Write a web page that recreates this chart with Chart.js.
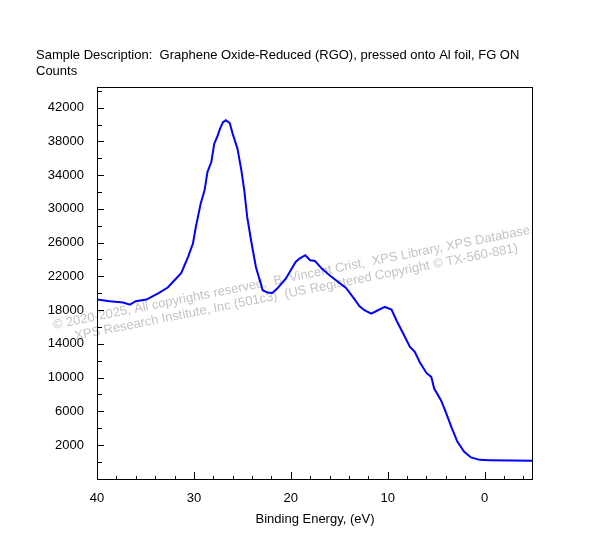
<!DOCTYPE html>
<html>
<head>
<meta charset="utf-8">
<title>Graphene Oxide-Reduced (RGO) valence band</title>
<script src="https://cdn.jsdelivr.net/npm/chart.js@4/dist/chart.umd.min.js"></script>
<style>
  body { margin: 0; background: #fff; }
  canvas { display: block; }
</style>
</head>
<body>
<canvas id="myChart" width="590" height="553"></canvas>
<script>
// values
let energy = [40.0, 38.7, 37.3, 36.6, 36.0, 34.9, 33.6, 32.7, 32.0, 31.3, 30.6, 30.1, 29.8, 29.3,
    28.9, 28.6, 28.2, 27.9, 27.6, 27.3, 27.0, 26.7, 26.3, 26.0, 25.5, 25.1, 24.8, 24.5, 24.1,
    23.6, 22.9, 22.4, 21.9, 21.4, 20.5, 19.5, 19.1, 18.5, 18.0, 17.5, 16.8, 16.0, 15.1, 14.3,
    13.6, 12.9, 12.4, 11.7, 11.0, 10.3, 9.6, 9.1, 8.4, 7.7, 7.2, 6.7, 6.0, 5.5, 5.2, 4.5, 4.0,
    3.4, 2.8, 2.1, 1.4, 0.5, -0.5, -5.0]
let counts = [19250, 19050, 18900, 18650, 19050, 19250, 20030, 20670, 21530, 22400, 24300, 25880,
    27850, 30620, 32200, 34370, 35550, 37730, 38520, 39510, 40290, 40500, 40180, 38920, 37140,
    34570, 32200, 29040, 26280, 23110, 20350, 20080, 20030, 20550, 21740, 23700, 24110, 24500,
    23900, 23820, 22920, 22130, 21330, 20620, 19560, 18450, 17980, 17590, 17980, 18370, 18060,
    16800, 15220, 13630, 13040, 11850, 10550, 10080, 8700, 7320, 5890, 4060, 2370, 1190, 525,
    240, 205, 120]

let xTickLabels = [40, 30, 20, 10, 0]
let xMinorTicks = [38, 36, 34, 32, 28, 26, 24, 22, 18, 16, 14, 12, 8, 6, 4, 2, -2, -4]
let yTickLabels = [2000, 6000, 10000, 14000, 18000, 22000, 26000, 30000, 34000, 38000, 42000]
let yMinorTicks = [0, 4000, 8000, 12000, 16000, 20000, 24000, 28000, 32000, 36000, 40000, 44000]

let titleLine = 'Sample Description:  Graphene Oxide-Reduced (RGO), pressed onto Al foil, FG ON'
let yLabel = 'Counts'
let xLabel = 'Binding Energy, (eV)'
let watermark = [
    '\u00a9 2020-2025, All copyrights reserved,  B. Vincent Crist,  XPS Library, XPS Database,',
    'XPS Research Institute, Inc (501c3)  (US Registered Copyright \u00a9 TX-560-881)'
]

const FONT = '"Liberation Sans", Arial, sans-serif'

// watermark under the curve
const watermarkPlugin = {
    id: 'watermark',
    beforeDatasetsDraw(chart) {
        const ctx = chart.ctx
        ctx.save()
        ctx.translate(294, 281)
        ctx.rotate(-11.3 * Math.PI / 180)
        ctx.font = '13px ' + FONT
        ctx.fillStyle = '#c4c4c4'
        ctx.textAlign = 'center'
        ctx.textBaseline = 'alphabetic'
        ctx.fillText(watermark[0], 0, 0)
        ctx.fillText(watermark[1], 0, 15)
        ctx.restore()
    }
}

// frame, inward tick marks, top texts
const framePlugin = {
    id: 'frame',
    afterDraw(chart) {
        const ctx = chart.ctx
        const a = chart.chartArea
        const xs = chart.scales.x
        const ys = chart.scales.y
        ctx.save()
        ctx.strokeStyle = '#000'
        ctx.lineWidth = 1
        ctx.strokeRect(a.left + 0.5, a.top + 0.5, a.right - a.left - 1, a.bottom - a.top)

        ctx.beginPath()
        xTickLabels.forEach(v => {
            let px = Math.round(xs.getPixelForValue(v)) + 0.5
            ctx.moveTo(px, a.bottom); ctx.lineTo(px, a.bottom - 7)
        })
        xMinorTicks.forEach(v => {
            let px = Math.round(xs.getPixelForValue(v)) + 0.5
            ctx.moveTo(px, a.bottom); ctx.lineTo(px, a.bottom - 3)
        })
        yTickLabels.forEach(v => {
            let py = Math.round(ys.getPixelForValue(v)) + 0.5
            ctx.moveTo(a.left, py); ctx.lineTo(a.left + 7, py)
        })
        yMinorTicks.forEach(v => {
            let py = Math.round(ys.getPixelForValue(v)) + 0.5
            ctx.moveTo(a.left, py); ctx.lineTo(a.left + 5, py)
        })
        ctx.stroke()

        ctx.fillStyle = '#000'
        ctx.font = '13px ' + FONT
        ctx.textAlign = 'left'
        ctx.textBaseline = 'alphabetic'
        ctx.fillText(titleLine, 36, 59)
        ctx.fillText(yLabel, 36, 75)
        ctx.restore()
    }
}

var ctx = document.getElementById('myChart').getContext('2d')
var myChart = new Chart(ctx, {
    type: 'line',
    data: {
        datasets: [{
            data: energy.map((e, i) => ({ x: e, y: counts[i] })),
            borderColor: '#0000ff',
            borderWidth: 2,
            pointRadius: 0,
            tension: 0,
            fill: false
        }]
    },
    options: {
        responsive: false,
        animation: false,
        layout: { padding: { top: 87, right: 57, left: 0, bottom: 26 } },
        plugins: {
            legend: { display: false },
            tooltip: { enabled: false }
        },
        scales: {
            x: {
                type: 'linear',
                reverse: true,
                min: -5,
                max: 40,
                afterBuildTicks: s => { s.ticks = xTickLabels.map(v => ({ value: v })) },
                afterFit: s => { s.height = 48 },
                grid: { display: false, drawTicks: false },
                border: { display: false },
                ticks: {
                    autoSkip: false,
                    maxRotation: 0,
                    padding: 12,
                    color: '#000',
                    font: { family: FONT, size: 13 },
                    callback: v => String(v)
                },
                title: {
                    display: true,
                    text: xLabel,
                    color: '#000',
                    font: { family: FONT, size: 13 },
                    padding: { top: 2, bottom: 0 }
                }
            },
            y: {
                type: 'linear',
                min: -2030,
                max: 44450,
                afterBuildTicks: s => { s.ticks = yTickLabels.map(v => ({ value: v })) },
                afterFit: s => { s.width = 97 },
                grid: { display: false, drawTicks: false },
                border: { display: false },
                ticks: {
                    autoSkip: false,
                    padding: 13,
                    color: '#000',
                    font: { family: FONT, size: 13 },
                    callback: v => String(v)
                }
            }
        }
    },
    plugins: [watermarkPlugin, framePlugin]
})
</script>
</body>
</html>
